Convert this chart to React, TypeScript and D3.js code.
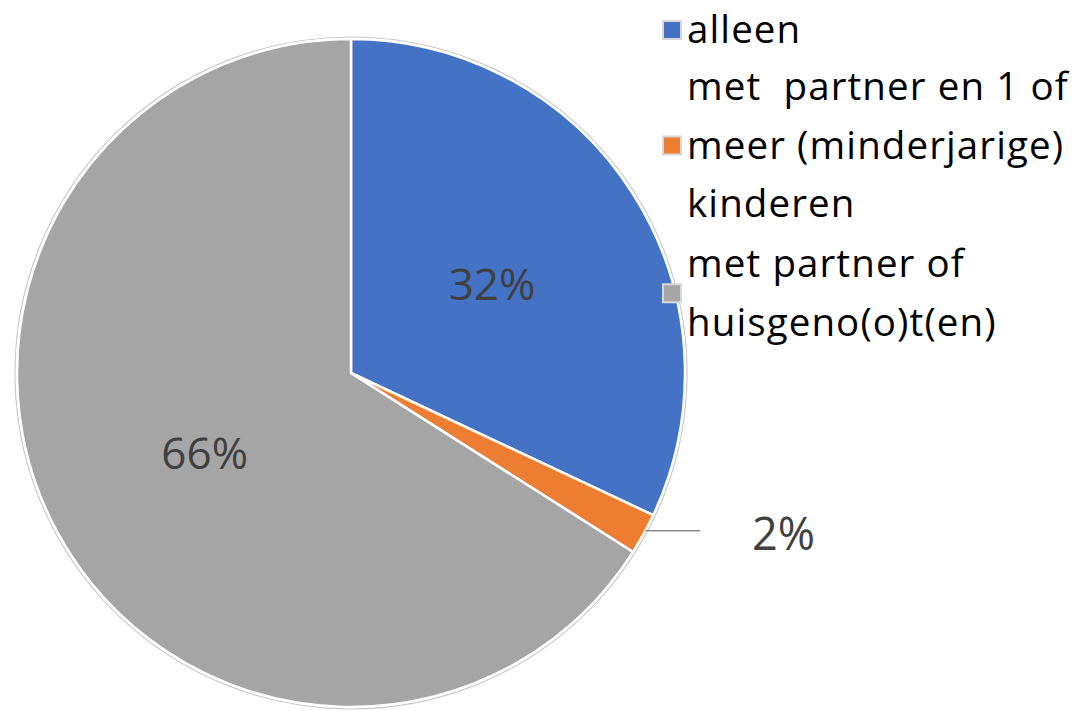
import React from "react";
import * as d3 from "d3";

const categories = ["alleen", "met partner en 1 of meer (minderjarige) kinderen", "met partner of huisgeno(o)t(en)"];
const legendLines = [["alleen"], ["met  partner en 1 of", "meer (minderjarige)", "kinderen"], ["met partner of", "huisgeno(o)t(en)"]];
const values = [32, 2, 66];
const colors = ["#4472C4", "#ED7D31", "#A5A5A5"];
const labels = ["32%", "2%", "66%"];

const W = 1087, H = 711;
const cx = 351, cy = 373, R = 334;
const FONT = "'Open Sans', 'Noto Sans', sans-serif";

export default function App() {
  const pie = d3.pie<number>().sort(null).value((d) => d)(values);
  const arc = d3.arc<d3.PieArcDatum<number>>().innerRadius(0).outerRadius(R);
  const legendFont = 38.5;
  const lineH = 58.5;
  const firstBaselines = [43, 100, 277];
  return (
    <svg width={W} height={H} style={{ position: "absolute", left: 0, top: 0, background: "#fff" }}>
      <g transform={`translate(${cx},${cy})`}>
        <circle r={R + 2} fill="none" stroke="#c8c8c8" strokeWidth={1.2} />
        {pie.map((d, i) => (
          <path key={i} d={arc(d) || ""} fill={colors[i]} stroke="#fff" strokeWidth={2.5} />
        ))}
        {pie.map((d, i) => {
          if (values[i] < 5) {
            const mid = (d.startAngle + d.endAngle) / 2;
            const x0 = Math.sin(mid) * (R + 2);
            const y0 = -Math.cos(mid) * (R + 2) - 4;
            const x1 = 700 - cx;
            return (
              <g key={"l" + i}>
                <line x1={x0} y1={y0} x2={x1} y2={y0} stroke="#8c8c8c" strokeWidth={1.5} />
                <text x={752 - cx} y={550 - cy} fontFamily={FONT} fontSize={45} fill="#404040">
                  {labels[i]}
                </text>
              </g>
            );
          }
          const [x, y] = arc.centroid(d);
          return (
            <text key={"t" + i} x={x} y={y + 16} textAnchor="middle" fontFamily={FONT} fontSize={44} fill="#404040">
              {labels[i]}
            </text>
          );
        })}
      </g>
      {categories.map((c, i) => {
        const lines = legendLines[i];
        const b0 = firstBaselines[i];
        const lastB = b0 + (lines.length - 1) * lineH;
        const midY = (b0 - 13 + lastB - 13) / 2;
        return (
          <g key={"lg" + i}>
            <rect x={663} y={midY - 9} width={18} height={18} fill={colors[i]} stroke="#d9d9d9" strokeWidth={2} />
            <text fontFamily={FONT} fontSize={legendFont} fill="#000" letterSpacing={1.1}>
              {lines.map((ln, j) => (
                <tspan key={j} x={687} y={b0 + j * lineH} style={{ whiteSpace: "pre" }}>
                  {ln}
                </tspan>
              ))}
            </text>
          </g>
        );
      })}
    </svg>
  );
}
